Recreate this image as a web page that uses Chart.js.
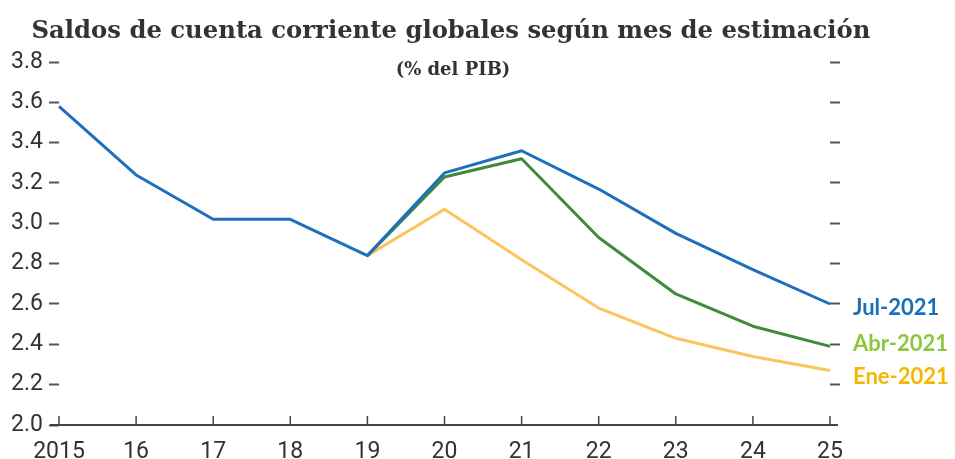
<!DOCTYPE html>
<html>
<head>
<meta charset="utf-8">
<script src="https://cdn.jsdelivr.net/npm/chart.js@4"></script>
<style>
  html, body { margin: 0; padding: 0; background: #fff; }
  #wrap { width: 955px; height: 459px; position: relative; }
</style>
</head>
<body>
<div id="wrap"><canvas id="lineChart"></canvas></div>
<script>
// Datos
const years = ['2015', '16', '17', '18', '19', '20', '21', '22', '23', '24', '25'];
const jul2021 = [3.58, 3.24, 3.02, 3.02, 2.84, 3.25, 3.36, 3.17, 2.95, 2.77, 2.60];
const abr2021 = [null, null, null, null, 2.84, 3.23, 3.32, 2.93, 2.65, 2.49, 2.39];
const ene2021 = [null, null, null, null, 2.84, 3.07, 2.82, 2.58, 2.43, 2.34, 2.27];
const yTicks = [2.0, 2.2, 2.4, 2.6, 2.8, 3.0, 3.2, 3.4, 3.6, 3.8];

const titleText = 'Saldos de cuenta corriente globales según mes de estimación';
const subtitleText = '(% del PIB)';

const tickFont = { family: '"Liberation Sans Narrow", "Arial Narrow", Roboto, sans-serif', size: 23 };

// Colores de las series
const lineColors = ['#1f6fbd', '#3f8a3c', '#fcc45e'];
const labelColors = ['#1a6fba', '#8dc63f', '#f5b800'];
const seriesNames = ['Jul-2021', 'Abr-2021', 'Ene-2021'];
const labelNudge = [4, -2, 6];

// Plugin: título, eje x con marcas internas, etiquetas de series
const decorPlugin = {
  id: 'decor',
  afterDraw(chart) {
    const ctx = chart.ctx;
    const x = chart.scales.x;
    const y = chart.scales.y;
    const area = chart.chartArea;
    ctx.save();

    // título (ajustado al ancho del original)
    ctx.fillStyle = '#333';
    ctx.textAlign = 'center';
    ctx.textBaseline = 'alphabetic';
    let size = 24;
    ctx.font = 'bold ' + size + 'px "DejaVu Serif", serif';
    size = size * 840 / ctx.measureText(titleText).width;
    ctx.font = 'bold ' + size.toFixed(1) + 'px "DejaVu Serif", serif';
    ctx.fillText(titleText, 451, 38);
    ctx.font = 'bold 18px "DejaVu Serif", serif';
    ctx.fillText(subtitleText, 453, 75);

    // eje x
    const y0 = y.getPixelForValue(2.0);
    ctx.strokeStyle = '#444';
    ctx.lineWidth = 2;
    ctx.beginPath();
    ctx.moveTo(area.left - 9, y0);
    ctx.lineTo(area.right + 8, y0);
    ctx.stroke();
    ctx.lineWidth = 1.5;
    years.forEach((lab, i) => {
      const px = x.getPixelForValue(i);
      ctx.beginPath();
      ctx.moveTo(px, y0);
      ctx.lineTo(px, y0 - 9);
      ctx.stroke();
    });

    // etiquetas de series
    ctx.textAlign = 'left';
    ctx.textBaseline = 'middle';
    ctx.font = 'bold 22px Lato, sans-serif';
    chart.data.datasets.forEach((ds, i) => {
      const last = ds.data[ds.data.length - 1];
      ctx.fillStyle = labelColors[i];
      ctx.fillText(seriesNames[i], area.right + 23, y.getPixelForValue(last) + labelNudge[i]);
    });
    ctx.restore();
  }
};

const ctx = document.getElementById('lineChart').getContext('2d');
const myLineChart = new Chart(ctx, {
  type: 'line',
  data: {
    labels: years,
    datasets: [
      { label: seriesNames[0], data: jul2021, borderColor: lineColors[0], borderWidth: 3 },
      { label: seriesNames[1], data: abr2021, borderColor: lineColors[1], borderWidth: 3 },
      { label: seriesNames[2], data: ene2021, borderColor: lineColors[2], borderWidth: 3 }
    ]
  },
  options: {
    responsive: true,
    maintainAspectRatio: false,
    animation: false,
    elements: { point: { radius: 0 }, line: { tension: 0, borderJoinStyle: 'round' } },
    layout: { padding: { top: 62, bottom: 0, left: 0, right: 0 } },
    plugins: {
      legend: { display: false },
      tooltip: { enabled: false }
    },
    scales: {
      x: {
        type: 'category',
        offset: false,
        grid: { display: false },
        border: { display: false },
        ticks: { color: '#333', font: tickFont, padding: 5, maxRotation: 0, autoSkip: false },
        afterFit(scale) { scale.height = 34; }
      },
      y: {
        position: 'left',
        min: 2.0,
        max: 3.8,
        afterBuildTicks(scale) { scale.ticks = yTicks.map(v => ({ value: v })); },
        grid: { drawOnChartArea: false, tickLength: 10, tickWidth: 2, tickColor: '#555' },
        border: { display: false },
        ticks: {
          color: '#333', font: tickFont, padding: 6,
          callback: v => v.toFixed(1)
        },
        afterFit(scale) { scale.width = 59; }
      },
      y2: {
        position: 'right',
        min: 2.0,
        max: 3.8,
        afterBuildTicks(scale) { scale.ticks = yTicks.slice(1).map(v => ({ value: v })); },
        grid: { drawOnChartArea: false, tickLength: 10, tickWidth: 2, tickColor: '#555' },
        border: { display: false },
        ticks: { display: false },
        afterFit(scale) { scale.width = 125; }
      }
    }
  },
  plugins: [decorPlugin]
});
</script>
</body>
</html>
